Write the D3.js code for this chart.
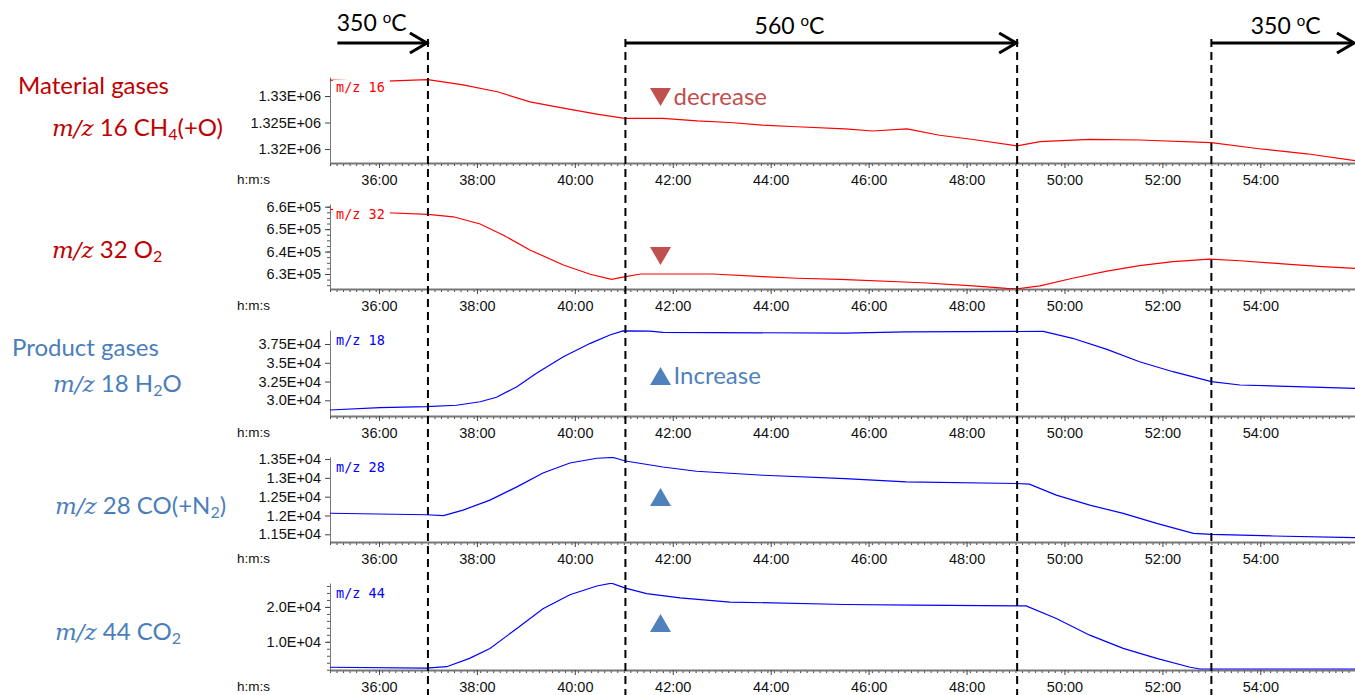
<!DOCTYPE html>
<html>
<head>
<meta charset="utf-8">
<script src="https://cdn.jsdelivr.net/npm/d3@7"></script>
<style>
  body { margin: 0; background: #fff; }
  svg { display: block; }
  .tick text { font-family: "Liberation Sans", Arial, sans-serif; fill: #111; }
</style>
</head>
<body>
<div id="chart"></div>
<script>
'use strict';

// Ion current traces, [mm:ss, value].
const mz16 = [
  ['35:00', 1.3330e6], ['35:45', 1.3328e6], ['36:10', 1.3328e6], ['36:42', 1.3330e6],
  ['37:00', 1.3331e6], ['37:43', 1.3321e6], ['38:25', 1.3308e6], ['39:05', 1.3289e6],
  ['39:46', 1.3277e6], ['40:27', 1.3266e6], ['41:01', 1.3258e6], ['41:48', 1.3258e6],
  ['42:30', 1.3253e6], ['43:10', 1.3250e6], ['43:50', 1.3245e6], ['44:32', 1.3242e6],
  ['45:31', 1.3238e6], ['46:05', 1.3234e6], ['46:47', 1.3238e6], ['47:27', 1.3226e6],
  ['48:08', 1.3218e6], ['49:02', 1.3206e6], ['49:30', 1.3214e6], ['50:31', 1.3218e6],
  ['51:32', 1.3217e6], ['53:00', 1.3212e6], ['53:56', 1.3201e6], ['54:57', 1.3191e6],
  ['55:56', 1.3178e6]
];
const mz32 = [
  ['35:00', 6.588e5], ['36:10', 6.573e5], ['37:00', 6.566e5], ['37:31', 6.555e5],
  ['38:04', 6.523e5], ['38:32', 6.474e5], ['39:05', 6.407e5], ['39:46', 6.340e5],
  ['40:19', 6.299e5], ['40:45', 6.276e5], ['41:02', 6.288e5], ['41:21', 6.300e5],
  ['42:49', 6.300e5], ['43:50', 6.288e5], ['44:32', 6.281e5], ['45:25', 6.276e5],
  ['47:06', 6.261e5], ['48:08', 6.247e5], ['48:49', 6.236e5], ['49:02', 6.234e5],
  ['49:30', 6.247e5], ['50:10', 6.281e5], ['50:52', 6.313e5], ['51:32', 6.337e5],
  ['52:13', 6.355e5], ['52:58', 6.366e5], ['53:35', 6.359e5], ['54:36', 6.343e5],
  ['55:16', 6.333e5], ['55:56', 6.325e5]
];
const mz18 = [
  ['35:00', 2.871e4], ['36:01', 2.902e4], ['36:58', 2.915e4], ['37:35', 2.934e4],
  ['38:04', 2.981e4], ['38:24', 3.040e4], ['38:49', 3.181e4], ['39:13', 3.360e4],
  ['39:46', 3.581e4], ['40:19', 3.759e4], ['40:43', 3.870e4], ['40:59', 3.925e4],
  ['41:32', 3.922e4], ['41:48', 3.905e4], ['45:31', 3.895e4], ['46:46', 3.912e4],
  ['49:34', 3.918e4], ['50:10', 3.826e4], ['50:52', 3.679e4], ['51:32', 3.514e4],
  ['52:13', 3.381e4], ['53:00', 3.248e4], ['53:35', 3.204e4], ['55:56', 3.160e4]
];
const mz28 = [
  ['35:00', 1.2060e4], ['36:58', 1.2020e4], ['37:19', 1.1995e4], ['37:43', 1.2143e4],
  ['38:16', 1.2407e4], ['38:49', 1.2759e4], ['39:21', 1.3130e4], ['39:54', 1.3394e4],
  ['40:27', 1.3520e4], ['40:47', 1.3540e4], ['41:02', 1.3447e4], ['41:48', 1.3288e4],
  ['42:29', 1.3175e4], ['43:51', 1.3069e4], ['45:31', 1.2981e4], ['46:46', 1.2891e4],
  ['49:01', 1.2849e4], ['49:17', 1.2831e4], ['49:50', 1.2540e4], ['50:31', 1.2275e4],
  ['51:12', 1.2055e4], ['51:53', 1.1791e4], ['52:38', 1.1526e4], ['53:00', 1.1500e4],
  ['54:16', 1.1455e4], ['55:56', 1.1410e4]
];
const mz44 = [
  ['35:00', 2700], ['36:58', 2450], ['37:23', 2860], ['37:51', 5260],
  ['38:16', 8100], ['38:49', 13800], ['39:21', 19500], ['39:54', 23500],
  ['40:27', 26000], ['40:45', 26800], ['41:02', 25400], ['41:28', 23800],
  ['42:09', 22600], ['43:10', 21400], ['45:31', 20700], ['46:55', 20500],
  ['49:13', 20300], ['49:50', 16700], ['50:31', 11900], ['51:12', 8100],
  ['51:53', 5260], ['52:34', 2700], ['52:46', 2200], ['55:56', 2200]
];

// Furnace temperature steps: dashed boundaries and the arrows above them.
const stepTimes = ['37:00', '41:02', '49:02', '53:00'];
const tempLabels = ['350', '560', '350'];
const tempSpans = [['35:09', '37:00'], ['41:02', '49:02'], ['53:00', '55:56']];
const tempLabelCenters = ['35:51', '44:23', '54:31'];

// Y tick values of every panel.
const ticks16 = [1.32e6, 1.325e6, 1.33e6];
const ticks32 = [6.3e5, 6.4e5, 6.5e5, 6.6e5];
const ticks18 = [3.0e4, 3.25e4, 3.5e4, 3.75e4];
const ticks28 = [1.15e4, 1.2e4, 1.25e4, 1.3e4, 1.35e4];
const ticks44 = [1.0e4, 2.0e4];

const RED = '#c00000';
const BLUE = '#4a7ebb';
const MARK_RED = '#c0504d';
const MARK_BLUE = '#4f81bd';

const parseTime = d3.timeParse('%M:%S');
const width = 1355;
const height = 695;
const plotLeft = 330;
const plotRight = 1355;

const x = d3.scaleTime()
  .domain([parseTime('35:00'), parseTime('55:56')])
  .range([plotLeft, plotRight]);

const panels = [
  {data: mz16, name: 'm/z 16', color: '#ff0000', top: 77, bottom: 163,
    domain: [1.31736e6, 1.33359e6], ticks: ticks16, minor: 0,
    marker: {dir: 'down', dy: 20, text: 'decrease', fill: MARK_RED}},
  {data: mz32, name: 'm/z 32', color: '#ff0000', top: 204, bottom: 289,
    domain: [6.2331e5, 6.612e5], ticks: ticks32, minor: 2500,
    marker: {dir: 'down', dy: 52, fill: MARK_RED}},
  {data: mz18, name: 'm/z 18', color: '#0000ff', top: 330, bottom: 416,
    domain: [2.791e4, 3.9365e4], ticks: ticks18, minor: 0,
    marker: {dir: 'up', dy: 46, text: 'Increase', fill: MARK_BLUE}},
  {data: mz28, name: 'm/z 28', color: '#0000ff', top: 457, bottom: 542,
    domain: [1.1296e4, 1.3553e4], ticks: ticks28, minor: 0,
    marker: {dir: 'up', dy: 40, fill: MARK_BLUE}},
  {data: mz44, name: 'm/z 44', color: '#0000ff', top: 583, bottom: 670,
    domain: [1915, 26857], ticks: ticks44, minor: 2000,
    marker: {dir: 'up', dy: 40, fill: MARK_BLUE}}
];

// Left side captions; each part is [text, kind] with kind '' | 'math' | 'sub'.
const captions = [
  {x: 18, y: 94, color: RED, parts: [['Material gases', '']]},
  {x: 52, y: 136, color: RED,
    parts: [['m/z', 'math'], [' 16 CH', ''], ['4', 'sub'], ['(+O)', '']]},
  {x: 52, y: 258, color: RED, parts: [['m/z', 'math'], [' 32 O', ''], ['2', 'sub']]},
  {x: 12, y: 356, color: BLUE, parts: [['Product gases', '']]},
  {x: 53, y: 392, color: BLUE,
    parts: [['m/z', 'math'], [' 18 H', ''], ['2', 'sub'], ['O', '']]},
  {x: 55, y: 514, color: BLUE,
    parts: [['m/z', 'math'], [' 28 CO(+N', ''], ['2', 'sub'], [')', '']]},
  {x: 55, y: 640, color: BLUE, parts: [['m/z', 'math'], [' 44 CO', ''], ['2', 'sub']]}
];

/**
 * Format a value like the instrument software: 1.325E+06, 3.0E+04.
 * @param {number} v
 * @returns {string}
 */
function sciFormat(v) {
  const e = Math.floor(Math.log10(v) + 1e-9);
  let m = (v / Math.pow(10, e)).toFixed(3).replace(/0+$/, '');
  if (m.endsWith('.')) {
    m += '0';
  }
  return `${m}E+${String(e).padStart(2, '0')}`;
}

const svg = d3.select('#chart')
  .append('svg')
  .attr('width', width)
  .attr('height', height);

const line = d3.line();

/**
 * Draw one ion trace with its axes, name box and trend marker.
 */
function drawPanel(p, i) {
  const y = d3.scaleLinear().domain(p.domain).range([p.bottom, p.top]);
  const g = svg.append('g');

  svg.append('clipPath')
    .attr('id', `clip${i}`)
    .append('rect')
    .attr('x', plotLeft)
    .attr('y', p.top)
    .attr('width', plotRight - plotLeft)
    .attr('height', p.bottom - p.top);

  // y axis with optional minor ticks
  if (p.minor) {
    const minorTicks = d3.range(Math.ceil(p.domain[0] / p.minor) * p.minor,
      p.domain[1], p.minor);
    g.append('g')
      .attr('transform', `translate(${plotLeft},0)`)
      .call(d3.axisLeft(y).tickValues(minorTicks).tickFormat('')
        .tickSize(3).tickSizeOuter(0))
      .call(a => a.select('.domain').remove())
      .call(a => a.selectAll('line').attr('stroke', '#555'));
  }
  const yAxis = g.append('g')
    .attr('transform', `translate(${plotLeft},0)`)
    .call(d3.axisLeft(y).tickValues(p.ticks).tickFormat(sciFormat)
      .tickSize(5).tickPadding(4).tickSizeOuter(0));
  yAxis.select('.domain').attr('stroke', '#777');
  yAxis.selectAll('.tick line').attr('stroke', '#444');
  yAxis.selectAll('text').style('font-size', '14.5px');

  // x axis: labels every 2 min, minor ticks every 8 s
  const [t0, t1] = x.domain();
  const minorX = d3.range(+t0, +t1 + 1, 8000).map(ms => new Date(ms));
  g.append('g')
    .attr('transform', `translate(0,${p.bottom})`)
    .call(d3.axisBottom(x).tickValues(minorX).tickFormat('')
      .tickSize(3).tickSizeOuter(0))
    .call(a => a.select('.domain').remove())
    .call(a => a.selectAll('line').attr('stroke', '#444'));
  const xAxis = g.append('g')
    .attr('transform', `translate(0,${p.bottom})`)
    .call(d3.axisBottom(x).ticks(d3.timeMinute.every(2))
      .tickFormat(d3.timeFormat('%M:%S'))
      .tickSize(5).tickPadding(7).tickSizeOuter(0));
  xAxis.select('.domain').attr('stroke', '#777').attr('stroke-width', 2);
  xAxis.selectAll('.tick line').attr('stroke', '#444');
  xAxis.selectAll('text').style('font-size', '14.5px');

  g.append('text')
    .attr('x', 237)
    .attr('y', p.bottom + 17)
    .attr('dominant-baseline', 'middle')
    .attr('font-family', '"Liberation Sans", Arial, sans-serif')
    .attr('font-size', '13.5px')
    .attr('fill', '#111')
    .text('h:m:s');

  line.x(d => x(parseTime(d[0]))).y(d => y(d[1]));
  g.append('path')
    .attr('clip-path', `url(#clip${i})`)
    .attr('d', line(p.data))
    .attr('fill', 'none')
    .attr('stroke', p.color)
    .attr('stroke-width', 1.2);

  // trace name on a white box, hiding the line beneath it
  g.append('rect')
    .attr('x', plotLeft + 3)
    .attr('y', p.top + 3)
    .attr('width', 57)
    .attr('height', 15)
    .attr('fill', '#fff');
  g.append('text')
    .attr('x', plotLeft + 6)
    .attr('y', p.top + 11)
    .attr('dominant-baseline', 'middle')
    .attr('font-family', '"DejaVu Sans Mono", monospace')
    .attr('font-size', '13.5px')
    .attr('fill', p.color)
    .text(p.name);

  // trend triangle
  const mx = x(parseTime('41:45'));
  const my = p.top + p.marker.dy;
  const w = 10.5;
  const h = 9;
  const tri = p.marker.dir === 'down'
    ? [[mx - w, my - h], [mx + w, my - h], [mx, my + h]]
    : [[mx - w, my + h], [mx + w, my + h], [mx, my - h]];
  g.append('path')
    .attr('d', d3.line()(tri) + 'Z')
    .attr('fill', p.marker.fill);
  if (p.marker.text) {
    g.append('text')
      .attr('x', mx + 13)
      .attr('y', my + 8)
      .attr('font-family', 'Lato, "Open Sans", sans-serif')
      .attr('font-size', '24px')
      .attr('fill', p.marker.fill)
      .text(p.marker.text);
  }
}

panels.forEach(drawPanel);

// captions on the left
captions.forEach(c => {
  const t = svg.append('text')
    .attr('x', c.x)
    .attr('y', c.y)
    .attr('fill', c.color)
    .attr('font-family', 'Lato, "Open Sans", sans-serif')
    .attr('font-size', '24px');
  let shift = 0;
  c.parts.forEach(([s, kind]) => {
    const span = t.append('tspan').text(s);
    if (kind === 'math') {
      span.attr('font-family', '"DejaVu Serif", "Liberation Serif", serif')
        .attr('font-style', 'italic')
        .attr('font-size', '23px');
    }
    const dy = kind === 'sub' ? 4 : 0;
    span.attr('dy', dy - shift);
    if (kind === 'sub') {
      span.attr('font-size', '16px');
    }
    shift = dy;
  });
});

// temperature arrows
tempSpans.forEach(([a, b], i) => {
  const x0 = x(parseTime(a));
  const x1 = x(parseTime(b));
  const ay = 43;
  svg.append('line')
    .attr('x1', x0).attr('x2', x1 - 1)
    .attr('y1', ay).attr('y2', ay)
    .attr('stroke', '#000')
    .attr('stroke-width', 3);
  svg.append('path')
    .attr('d', d3.line()([[x1 - 18, ay - 10], [x1 - 1, ay], [x1 - 18, ay + 10]]))
    .attr('fill', 'none')
    .attr('stroke', '#000')
    .attr('stroke-width', 3);

  const lbl = svg.append('text')
    .attr('x', x(parseTime(tempLabelCenters[i])))
    .attr('y', i === 0 ? 31 : 34)
    .attr('text-anchor', 'middle')
    .attr('font-family', 'Lato, "Open Sans", sans-serif')
    .attr('font-size', '23px')
    .attr('fill', '#000');
  lbl.append('tspan').text(`${tempLabels[i]} `);
  lbl.append('tspan').attr('dy', -8).attr('font-size', '15px').text('o');
  lbl.append('tspan').attr('dy', 8).text('C');
});

// dashed step boundaries
svg.selectAll('.step')
  .data(stepTimes)
  .join('line')
  .attr('class', 'step')
  .attr('x1', d => x(parseTime(d)))
  .attr('x2', d => x(parseTime(d)))
  .attr('y1', 39)
  .attr('y2', height)
  .attr('stroke', '#000')
  .attr('stroke-width', 2)
  .attr('stroke-dasharray', '8,5');
</script>
</body>
</html>
